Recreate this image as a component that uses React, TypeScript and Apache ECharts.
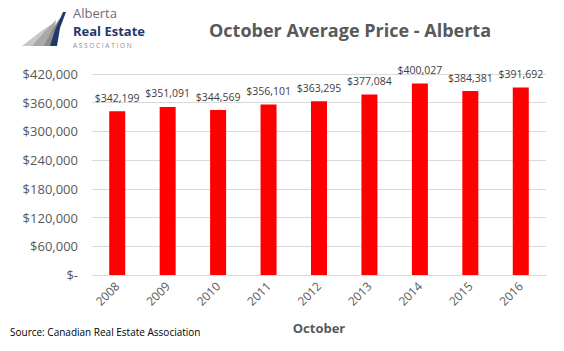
import React, { useEffect, useRef } from "react";
import * as echarts from "echarts";

const categories = ["2008", "2009", "2010", "2011", "2012", "2013", "2014", "2015", "2016"];
const prices = [342199, 351091, 344569, 356101, 363295, 377084, 400027, 384381, 391692];
const yTicks = { min: 0, max: 420000, interval: 60000 };

const fmt = (v: number) => "$" + Math.round(v).toLocaleString("en-US");

export default function App() {
  const ref = useRef<HTMLDivElement>(null);
  useEffect(() => {
    const chart = echarts.init(ref.current!, null, { renderer: "svg" });
    const font = "Open Sans, Calibri, sans-serif";
    chart.setOption({
      animation: false,
      backgroundColor: "#ffffff",
      title: {
        text: "October Average Price - Alberta",
        left: 345,
        top: 16,
        textAlign: "center",
        textStyle: { fontFamily: font, fontSize: 18, fontWeight: "bold", color: "#595959" },
      },
      grid: { left: 92, right: 18, top: 74, bottom: 76 },
      xAxis: {
        type: "category",
        data: categories,
        name: "October",
        nameLocation: "middle",
        nameGap: 46,
        nameTextStyle: { fontFamily: font, fontSize: 13, fontWeight: "bold", color: "#595959" },
        axisLine: { lineStyle: { color: "#d9d9d9" } },
        axisTick: { show: false },
        axisLabel: { rotate: 45, fontFamily: font, fontSize: 12, color: "#595959", margin: 9 },
      },
      yAxis: {
        type: "value",
        min: yTicks.min,
        max: yTicks.max,
        interval: yTicks.interval,
        axisLine: { show: false },
        axisTick: { show: false },
        splitLine: { lineStyle: { color: "#d9d9d9" } },
        axisLabel: {
          fontFamily: font,
          fontSize: 13,
          color: "#595959",
          margin: 14,
          formatter: (v: number) => (v === 0 ? "$-" : fmt(v)),
        },
      },
      series: [
        {
          type: "bar",
          data: prices,
          barWidth: 16,
          itemStyle: { color: "#ff0000" },
          label: {
            show: true,
            position: "top",
            distance: 8,
            fontFamily: font,
            fontSize: 10.5,
            color: "#404040",
            formatter: (p: any) => fmt(p.value),
          },
        },
      ],
      graphic: [
        // logo swoosh
        { type: "polygon", shape: { points: [[22, 46], [40, 32], [52, 24], [50, 32], [44, 46]] }, style: { fill: "#c8c8c8" } },
        { type: "polygon", shape: { points: [[32, 46], [46, 30], [56, 20], [54, 32], [50, 46]] }, style: { fill: "#a8a8a8" } },
        { type: "polygon", shape: { points: [[44, 46], [52, 30], [60, 18], [58, 32], [56, 46]] }, style: { fill: "#8c8c8c" } },
        { type: "polygon", shape: { points: [[50, 46], [55, 30], [63, 12], [66, 12], [60, 28], [57, 46]] }, style: { fill: "#1f3a68" } },
        { type: "text", x: 73, y: 13, style: { text: "Alberta", fontFamily: font, fontSize: 13, lineHeight: 13, verticalAlign: "middle", fill: "#6d6e71" } },
        { type: "text", x: 73, y: 31, style: { text: "Real Estate", fontFamily: font, fontSize: 13, lineHeight: 13, verticalAlign: "middle", fontWeight: "bold", fill: "#1f3a68" } },
        { type: "text", x: 73, y: 45, style: { text: "A S S O C I A T I O N", fontFamily: font, fontSize: 6.5, lineHeight: 7, verticalAlign: "middle", fill: "#8c8c8c" } },
        {
          type: "text",
          left: 10,
          top: 327,
          style: { text: "Source: Canadian Real Estate Association", fontFamily: font, fontSize: 10, fill: "#000000" },
        },
      ],
    });
    return () => chart.dispose();
  }, []);
  return <div ref={ref} style={{ width: 564, height: 351, position: "absolute", left: 0, top: 0 }} />;
}
